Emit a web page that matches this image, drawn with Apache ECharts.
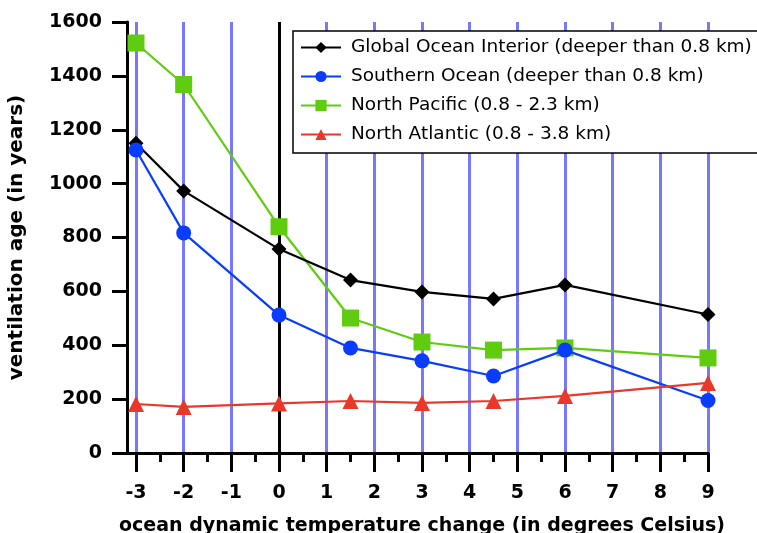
<!DOCTYPE html>
<html>
<head>
<meta charset="utf-8">
<script src="https://cdn.jsdelivr.net/npm/echarts@6/dist/echarts.min.js"></script>
<style>
  html, body { margin: 0; padding: 0; background: #fff; }
  #chart { width: 757px; height: 533px; }
</style>
</head>
<body>
<div id="chart"></div>
<script>
// temperature change (x) vs ventilation age (y)
const tempChange = [-3, -2, 0, 1.5, 3, 4.5, 6, 9];
const globalInterior = [1150, 973, 757, 642, 598, 572, 624, 514];
const southernOcean = [1125, 817, 512, 390, 342, 286, 382, 195];
const northPacific = [1522, 1368, 840, 501, 412, 382, 390, 353];
const northAtlantic = [182, 171, 184, 193, 186, 193, 212, 260];

const names = [
  'Global Ocean Interior (deeper than 0.8 km)',
  'Southern Ocean (deeper than 0.8 km)',
  'North Pacific (0.8 - 2.3 km)',
  'North Atlantic (0.8 - 3.8 km)'
];

const pairs = ys => tempChange.map((x, i) => [x, ys[i]]);

const gridColors = [];
for (let v = -3; v <= 9; v++) gridColors.push(v === 0 ? '#000' : '#7878ff');

const chart = echarts.init(document.getElementById('chart'));

const lineSeries = (name, ys, color, symbol, size, z) => ({
  name: name,
  type: 'line',
  data: pairs(ys),
  symbol: symbol,
  symbolSize: size,
  z: z,
  itemStyle: { color: color },
  lineStyle: { color: color, width: 2.2 }
});

const option = {
  animation: false,
  backgroundColor: '#fff',
  legend: {
    data: names,
    orient: 'vertical',
    left: 293,
    top: 31,
    itemWidth: 40,
    itemHeight: 14,
    itemGap: 10,
    padding: [7, 40, 9, 7],
    borderColor: '#000',
    borderWidth: 1.5,
    backgroundColor: '#fff',
    textStyle: { fontFamily: 'DejaVu Sans', fontSize: 18.5, color: '#000', padding: [0, 0, 0, 5] }
  },
  grid: [
    { left: 136, right: 49, top: 22, bottom: 80, outerBoundsMode: 'none' },
    { left: 127, right: 49, top: 22, bottom: 80, outerBoundsMode: 'none' }
  ],
  xAxis: [
    {
      type: 'value',
      gridIndex: 0,
      min: -3,
      max: 9,
      interval: 1,
      name: 'ocean dynamic temperature change (in degrees Celsius)',
      nameLocation: 'middle',
      nameGap: 64,
      nameTextStyle: { fontFamily: 'DejaVu Sans', fontWeight: 'bold', fontSize: 19, color: '#000' },
      axisLine: { onZero: false, lineStyle: { color: '#000', width: 3 } },
      axisTick: { length: 19, lineStyle: { color: '#000', width: 3 } },
      minorTick: { show: true, splitNumber: 2, length: 9, lineStyle: { color: '#000', width: 3 } },
      axisLabel: { margin: 31, fontFamily: 'DejaVu Sans', fontWeight: 'bold', fontSize: 19, color: '#000' },
      splitLine: { show: true, lineStyle: { color: gridColors, width: 3 } }
    },
    {
      type: 'value',
      gridIndex: 1,
      min: 0,
      max: 1,
      axisLine: { onZero: false, lineStyle: { color: '#000', width: 3 } },
      axisTick: { show: false },
      axisLabel: { show: false },
      splitLine: { show: false }
    }
  ],
  yAxis: [
    {
      type: 'value',
      gridIndex: 0,
      min: 0,
      max: 1600,
      interval: 200,
      offset: 9,
      name: 'ventilation age (in years)',
      nameLocation: 'middle',
      nameGap: 100,
      nameTextStyle: { fontFamily: 'DejaVu Sans', fontWeight: 'bold', fontSize: 20, color: '#000' },
      axisLine: { show: true, onZero: false, lineStyle: { color: '#000', width: 3 } },
      axisTick: { show: true, length: 15, lineStyle: { color: '#000', width: 3 } },
      axisLabel: {
        margin: 25,
        formatter: v => String(v),
        fontFamily: 'DejaVu Sans', fontWeight: 'bold', fontSize: 19, color: '#000'
      },
      splitLine: { show: false }
    },
    {
      type: 'value',
      gridIndex: 1,
      min: 0,
      max: 1,
      show: false
    }
  ],
  series: [
    lineSeries(names[0], globalInterior, '#000000', 'diamond', 15, 3),
    lineSeries(names[2], northPacific, '#5fcc10', 'rect', 17, 2),
    lineSeries(names[1], southernOcean, '#0a3cff', 'circle', 15, 4),
    lineSeries(names[3], northAtlantic, '#e8382a', 'triangle', 16, 5)
  ]
};

chart.setOption(option);
</script>
</body>
</html>
